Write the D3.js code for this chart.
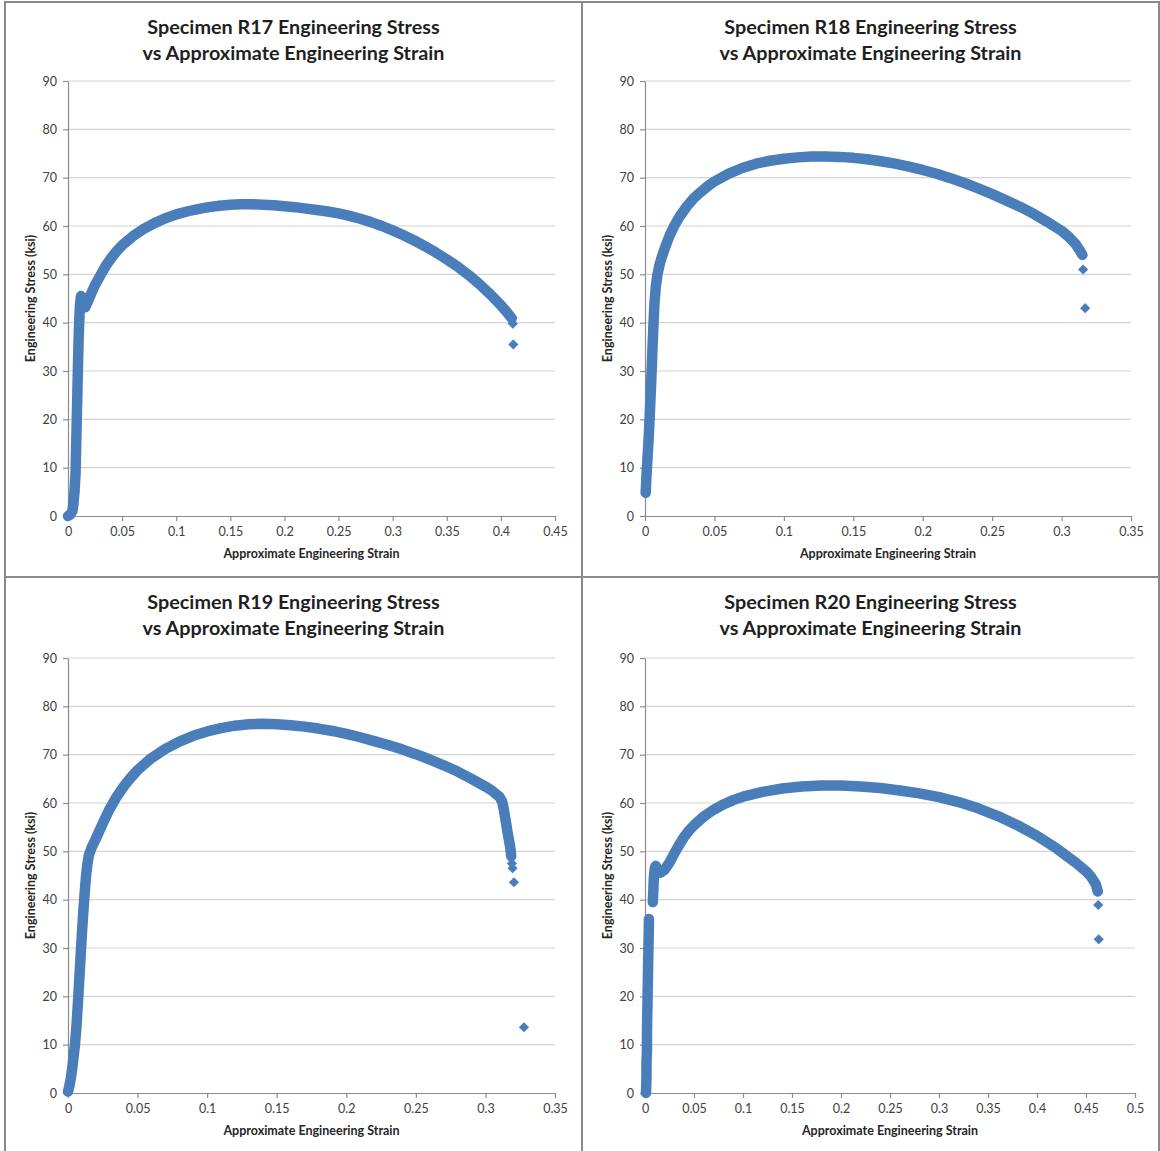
<!DOCTYPE html>
<html>
<head>
<meta charset="utf-8">
<script src="https://cdn.jsdelivr.net/npm/d3@7"></script>
<style>
  html, body { margin: 0; padding: 0; background: #ffffff; }
  svg { display: block; }
</style>
</head>
<body>
<svg id="chart" width="1160" height="1151"></svg>
<script>
// ---------------- DATA ----------------
const titles = [
  ["Specimen R17 Engineering Stress", "vs Approximate Engineering Strain"],
  ["Specimen R18 Engineering Stress", "vs Approximate Engineering Strain"],
  ["Specimen R19 Engineering Stress", "vs Approximate Engineering Strain"],
  ["Specimen R20 Engineering Stress", "vs Approximate Engineering Strain"]
];
const xAxisTitle = "Approximate Engineering Strain";
const yAxisTitle = "Engineering Stress (ksi)";

const yTicks = [0, 10, 20, 30, 40, 50, 60, 70, 80, 90];
const xTicksR17 = [0, 0.05, 0.1, 0.15, 0.2, 0.25, 0.3, 0.35, 0.4, 0.45];
const xTicksR18 = [0, 0.05, 0.1, 0.15, 0.2, 0.25, 0.3, 0.35];
const xTicksR19 = [0, 0.05, 0.1, 0.15, 0.2, 0.25, 0.3, 0.35];
const xTicksR20 = [0, 0.05, 0.1, 0.15, 0.2, 0.25, 0.3, 0.35, 0.4, 0.45, 0.5];

// [strain, stress(ksi)] — continuous bands of measured points
const r17Curve = [
  [0,0],[0.002,0.3],[0.004,1],[0.005,2.5],[0.006,5],[0.007,9],[0.0075,14],[0.008,19],
  [0.0085,24],[0.009,29],[0.0095,34],[0.010,38],[0.0105,41],[0.011,43.5],[0.012,45.5],
  [0.013,45],[0.0145,43.5],[0.016,43.2],[0.018,44.2],[0.021,45.8],[0.025,47.8],[0.03,49.8],
  [0.035,51.8],[0.04,53.4],[0.045,54.8],[0.05,56],[0.06,57.9],[0.07,59.4],[0.08,60.6],
  [0.09,61.6],[0.1,62.4],[0.11,63],[0.12,63.5],[0.13,63.9],[0.14,64.2],[0.15,64.4],
  [0.16,64.5],[0.17,64.5],[0.18,64.4],[0.19,64.3],[0.2,64.1],[0.21,63.9],[0.22,63.6],
  [0.23,63.3],[0.24,63.0],[0.25,62.6],[0.26,62.1],[0.27,61.5],[0.28,60.8],[0.29,60.0],
  [0.3,59.1],[0.31,58.1],[0.32,57.0],[0.33,55.8],[0.34,54.5],[0.35,53.1],[0.36,51.6],
  [0.37,49.9],[0.38,48.0],[0.39,45.9],[0.40,43.6],[0.405,42.3],[0.41,40.9]
];
const r17Fracture = [[0.411,39.8],[0.4115,35.5]];

const r18Curve = [
  [0.0005,4.8],[0.001,8],[0.0018,12],[0.0028,17],[0.0036,22],[0.0045,28],[0.0053,34],
  [0.006,39],[0.0068,44],[0.0078,47.5],[0.009,50],[0.0105,52],[0.012,53.5],[0.015,56],
  [0.018,58.2],[0.021,60],[0.025,62],[0.03,64],[0.035,65.7],[0.04,67],[0.045,68.2],
  [0.05,69.2],[0.06,70.8],[0.07,72],[0.08,72.9],[0.09,73.5],[0.1,73.9],[0.11,74.2],
  [0.12,74.4],[0.13,74.4],[0.14,74.3],[0.15,74.1],[0.16,73.8],[0.17,73.4],[0.18,72.9],
  [0.19,72.3],[0.2,71.6],[0.21,70.8],[0.22,69.9],[0.23,68.9],[0.24,67.8],[0.25,66.6],
  [0.26,65.3],[0.27,64],[0.28,62.5],[0.29,60.8],[0.3,59],[0.305,57.8],[0.31,56.3],
  [0.313,55],[0.315,54]
];
const r18Fracture = [[0.3155,51],[0.317,43]];

const r19Curve = [
  [0,0.3],[0.001,1.5],[0.002,3],[0.003,5],[0.004,7.5],[0.005,10],[0.006,13.5],[0.007,18],
  [0.008,23],[0.009,28],[0.010,33],[0.011,37.5],[0.012,41.5],[0.013,45],[0.014,47.5],
  [0.015,49.2],[0.017,50.8],[0.02,52.6],[0.025,55.8],[0.03,58.8],[0.035,61.3],[0.04,63.4],
  [0.045,65.2],[0.05,66.8],[0.06,69.3],[0.07,71.2],[0.08,72.7],[0.09,73.9],[0.1,74.8],
  [0.11,75.5],[0.12,76],[0.13,76.3],[0.14,76.4],[0.15,76.3],[0.16,76.1],[0.17,75.8],
  [0.18,75.4],[0.19,74.9],[0.2,74.3],[0.21,73.6],[0.22,72.8],[0.23,72],[0.24,71.1],
  [0.25,70.1],[0.26,69.0],[0.27,67.8],[0.28,66.5],[0.29,65.0],[0.3,63.4],[0.305,62.5],
  [0.31,61.3],[0.312,60.3],[0.313,59.0],[0.314,57.3],[0.315,55.6],[0.316,53.8],[0.317,52.2],
  [0.318,50.5],[0.3185,49]
];
const r19Fracture = [[0.319,47.5],[0.3195,46.5],[0.3205,43.6],[0.3277,13.6]];

const r20Elastic = [
  [0.001,0],[0.0015,3],[0.0015,6],[0.002,9],[0.002,12],[0.0022,15],[0.0025,18],
  [0.0027,21],[0.003,24],[0.0032,27],[0.0035,30],[0.0038,33],[0.004,36]
];
const r20Curve = [
  [0.008,39.5],[0.0085,42],[0.009,44.5],[0.010,46.5],[0.011,47],[0.013,46],[0.016,45.6],
  [0.02,46.2],[0.025,47.7],[0.03,49.6],[0.035,51.4],[0.04,53],[0.045,54.3],[0.05,55.4],
  [0.06,57.2],[0.07,58.6],[0.08,59.7],[0.09,60.6],[0.1,61.3],[0.12,62.3],[0.14,63],
  [0.16,63.4],[0.18,63.6],[0.2,63.6],[0.22,63.4],[0.24,63.1],[0.26,62.6],[0.28,62],
  [0.3,61.2],[0.32,60.2],[0.34,58.9],[0.36,57.3],[0.38,55.4],[0.4,53.2],[0.42,50.6],
  [0.44,47.6],[0.45,45.9],[0.455,44.8],[0.46,43.2],[0.462,41.7]
];
const r20Fracture = [[0.4625,38.9],[0.463,31.8]];

// ---------------- LAYOUT ----------------
const panels = [
  { box: [5, 2, 577, 575],   plot: { l: 68,  r: 555,  t: 81,  b: 516 },  xMax: 0.45, xTicks: xTicksR17,
    title: titles[0], bands: [r17Curve], fracture: r17Fracture },
  { box: [582, 2, 577, 575], plot: { l: 645, r: 1131, t: 81,  b: 516 },  xMax: 0.35, xTicks: xTicksR18,
    title: titles[1], bands: [r18Curve], fracture: r18Fracture },
  { box: [5, 577, 577, 576], plot: { l: 68,  r: 555,  t: 658, b: 1093 }, xMax: 0.35, xTicks: xTicksR19,
    title: titles[2], bands: [r19Curve], fracture: r19Fracture },
  { box: [582, 577, 577, 576], plot: { l: 645, r: 1135, t: 658, b: 1093 }, xMax: 0.5, xTicks: xTicksR20,
    title: titles[3], bands: [r20Elastic, r20Curve], fracture: r20Fracture }
];

const BLUE = "#4A7EBB";
const FONT = "Lato, 'Open Sans', 'DejaVu Sans', sans-serif";
const svg = d3.select("#chart");
const fmt = d3.format("~g");
const diamond = d3.symbol(d3.symbolSquare, 52);

panels.forEach(p => {
  const g = svg.append("g");
  const { l, r, t, b } = p.plot;
  const x = d3.scaleLinear().domain([0, p.xMax]).range([l, r]);
  const y = d3.scaleLinear().domain([0, 90]).range([b, t]);

  // Panel border
  g.append("rect")
    .attr("x", p.box[0]).attr("y", p.box[1])
    .attr("width", p.box[2]).attr("height", p.box[3])
    .attr("fill", "none").attr("stroke", "#8a8a8a").attr("stroke-width", 2);

  // Title
  const cx = p.box[0] + p.box[2] / 2;
  p.title.forEach((line, i) => {
    g.append("text")
      .attr("x", cx).attr("y", p.box[1] + 32 + i * 25.5)
      .attr("text-anchor", "middle")
      .attr("font-family", FONT).attr("font-weight", "bold")
      .attr("font-size", 19.8).attr("fill", "#1f1f1f")
      .text(line);
  });

  // Gridlines
  g.append("g").selectAll("line").data(yTicks.filter(v => v > 0)).join("line")
    .attr("x1", l).attr("x2", r)
    .attr("y1", d => y(d)).attr("y2", d => y(d))
    .attr("stroke", "#d4d4d4").attr("stroke-width", 1.2);

  // Y axis
  const ya = g.append("g").attr("transform", `translate(${l},0)`)
    .call(d3.axisLeft(y).tickValues(yTicks).tickFormat(fmt).tickSizeInner(5).tickSizeOuter(0).tickPadding(6));
  ya.select(".domain").attr("stroke", "#8c8c8c").attr("stroke-width", 1.2);
  ya.selectAll(".tick line").attr("stroke", "#8c8c8c").attr("stroke-width", 1.2);
  ya.selectAll("text").attr("font-family", FONT).attr("font-size", 12.5).attr("fill", "#404040");

  // X axis
  const xa = g.append("g").attr("transform", `translate(0,${b})`)
    .call(d3.axisBottom(x).tickValues(p.xTicks).tickFormat(fmt).tickSizeInner(5).tickSizeOuter(0).tickPadding(6));
  xa.select(".domain").attr("stroke", "#8c8c8c").attr("stroke-width", 1.2);
  xa.selectAll(".tick line").attr("stroke", "#8c8c8c").attr("stroke-width", 1.2);
  xa.selectAll("text").attr("font-family", FONT).attr("font-size", 12.5).attr("fill", "#404040");

  // Axis titles
  g.append("text")
    .attr("x", (l + r) / 2).attr("y", b + 42)
    .attr("text-anchor", "middle")
    .attr("font-family", FONT).attr("font-weight", "bold").attr("font-size", 12.5)
    .attr("fill", "#262626").text(xAxisTitle);
  g.append("text")
    .attr("transform", `translate(${l - 33},${(t + b) / 2}) rotate(-90)`)
    .attr("text-anchor", "middle")
    .attr("font-family", FONT).attr("font-weight", "bold").attr("font-size", 12.5)
    .attr("fill", "#262626").text(yAxisTitle);

  // Data bands
  const lineLinear = d3.line().x(d => x(d[0])).y(d => y(d[1]));
  p.bands.forEach(band => {
    g.append("path").datum(band)
      .attr("d", lineLinear)
      .attr("fill", "none").attr("stroke", BLUE)
      .attr("stroke-width", 10.5).attr("stroke-linejoin", "round").attr("stroke-linecap", "round");
    g.append("g").selectAll("path").data(band).join("path")
      .attr("d", diamond)
      .attr("transform", d => `translate(${x(d[0])},${y(d[1])}) rotate(45)`)
      .attr("fill", BLUE);
  });
  g.append("g").selectAll("path").data(p.fracture).join("path")
    .attr("d", diamond)
    .attr("transform", d => `translate(${x(d[0])},${y(d[1])}) rotate(45)`)
    .attr("fill", BLUE);
});
</script>
</body>
</html>
